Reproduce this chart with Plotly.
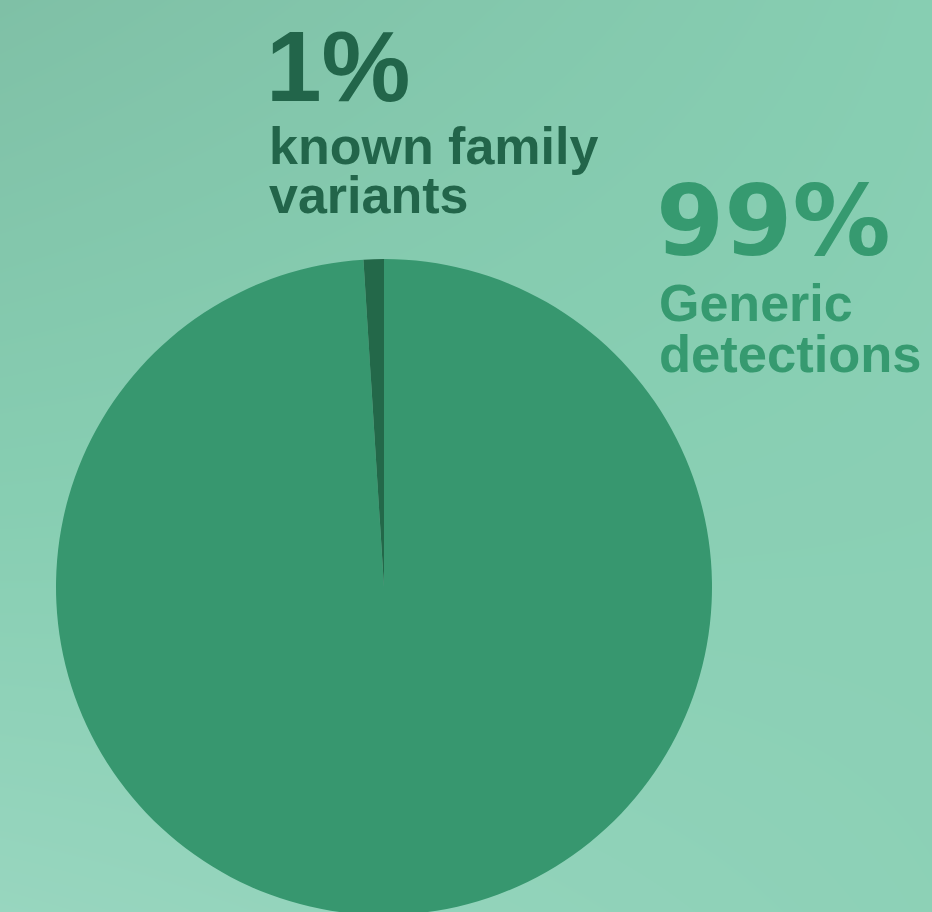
import plotly.graph_objects as go

# Data
labels = ["Generic detections", "known family variants"]
values = [99, 1]
pct_labels = ["1%", "99%"]
line_labels = [["known family", "variants"], ["Generic", "detections"]]

slice_colors = ["#37976f", "#236849"]
text_colors = ["#22654a", "#369a70"]

# background gradient (corner shades)
bg_z = [[1.0, 0.7], [0.0, 0.55]]  # rows: bottom, top
bg_scale = [[0, "#7fc0a6"], [0.55, "#87ceb2"], [1, "#98d6bf"]]

# figure slightly taller than the window so the pie bottom is cropped like the reference
W, H = 932, 915

fig = go.Figure()

fig.add_trace(go.Heatmap(
    z=bg_z, x=[0, 1], y=[0, 1], colorscale=bg_scale, zsmooth="best",
    showscale=False, hoverinfo="skip"))

# pie centre (384, 587) radius 328 in px
cx, cy, r = 384, 587, 328
fig.add_trace(go.Pie(
    labels=labels, values=values, sort=False, direction="clockwise",
    rotation=0, textinfo="none", hoverinfo="label+percent",
    marker=dict(colors=slice_colors, line=dict(width=0)),
    domain=dict(x=[(cx - r) / W, (cx + r) / W], y=[(H - cy - r) / H, (H - cy + r) / H]),
    showlegend=False))

def ann(text, x_px, base_px, size, color, family):
    center = base_px - 0.35 * size
    fig.add_annotation(
        text="<b>" + text + "</b>", xref="paper", yref="paper",
        x=x_px / W, y=1 - center / H,
        xanchor="left", yanchor="middle", showarrow=False,
        font=dict(family=family, size=size, color=color))

ann(pct_labels[0], 264, 101, 100, text_colors[0], "Liberation Sans, Arial")
ann(line_labels[0][0], 267, 164, 52, text_colors[0], "Liberation Sans, Arial")
ann(line_labels[0][1], 267, 213, 52, text_colors[0], "Liberation Sans, Arial")
ann(pct_labels[1], 654, 255, 98, text_colors[1], "DejaVu Sans")
ann(line_labels[1][0], 657, 321, 52, text_colors[1], "Liberation Sans, Arial")
ann(line_labels[1][1], 657, 372, 52.5, text_colors[1], "Liberation Sans, Arial")

fig.update_layout(
    width=W, height=H, margin=dict(l=0, r=0, t=0, b=0),
    paper_bgcolor="#86ccb0", plot_bgcolor="#86ccb0",
    xaxis=dict(visible=False, range=[0, 1], domain=[0, 1], fixedrange=True),
    yaxis=dict(visible=False, range=[0, 1], domain=[0, 1], fixedrange=True),
    showlegend=False)

fig.write_html("out.html", config={"displayModeBar": False})

# remove default browser body margin so the figure fills the window
with open("out.html", "r", encoding="utf-8") as f:
    html = f.read()
html = html.replace("<body>", '<body style="margin:0;padding:0;overflow:hidden">', 1)
with open("out.html", "w", encoding="utf-8") as f:
    f.write(html)
